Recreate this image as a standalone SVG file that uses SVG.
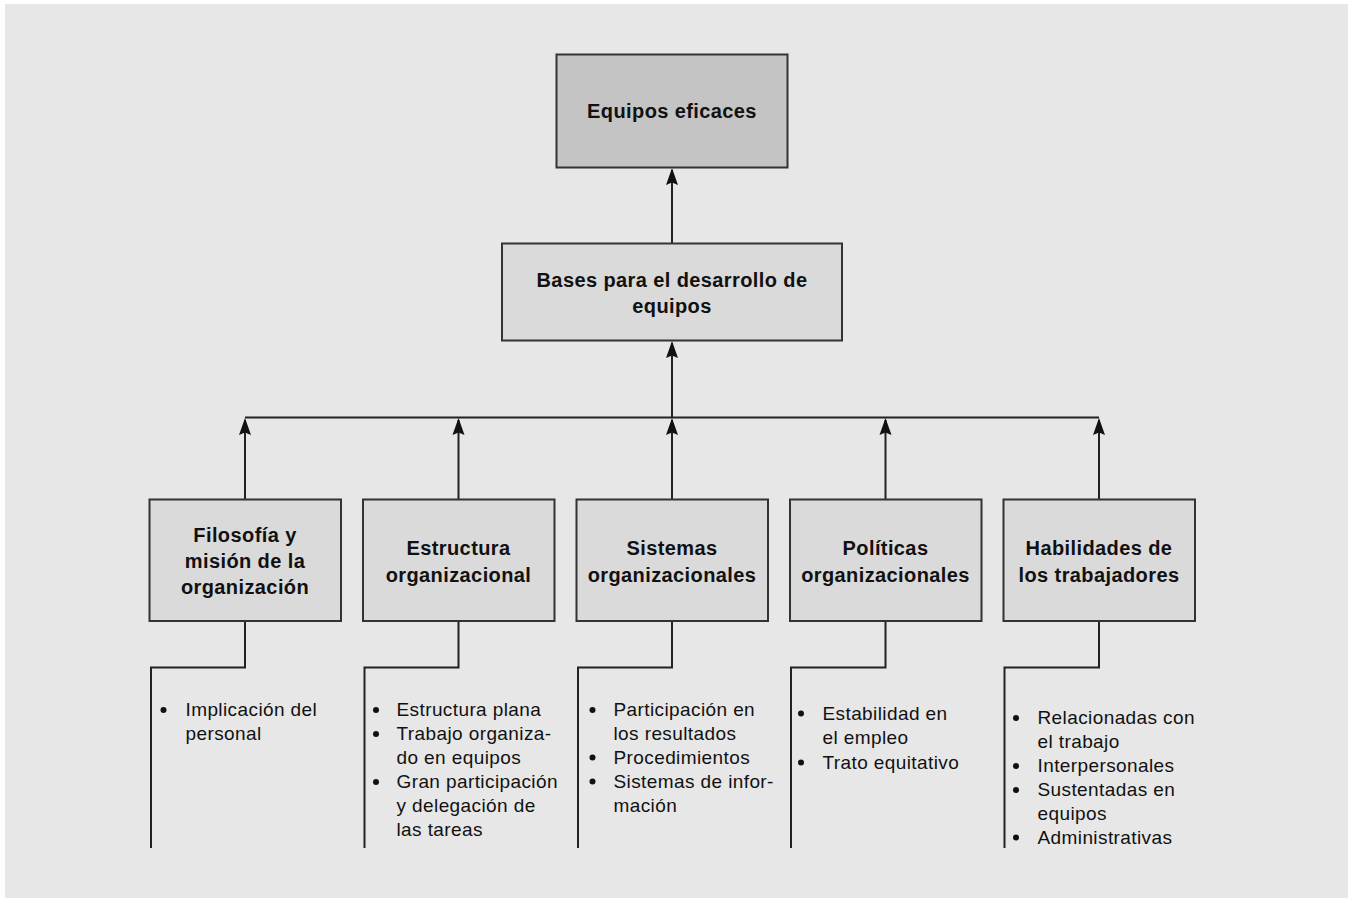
<svg xmlns="http://www.w3.org/2000/svg" width="1352" height="898" viewBox="0 0 1352 898">
<style>
.box{stroke:#333;stroke-width:2}
.light{fill:#dadada}
.dark{fill:#c4c4c4}
.hd{font-family:"Liberation Sans",Arial,sans-serif;font-weight:bold;font-size:20px;letter-spacing:0.4px;fill:#111;text-anchor:middle}
.bl{font-family:"Liberation Sans",Arial,sans-serif;font-size:19px;letter-spacing:0.4px;fill:#111}
.ln{fill:none;stroke:#222;stroke-width:2}
.dot{fill:#111}
.ah{fill:#111}
</style>
<rect x="5" y="4" width="1343" height="894" fill="#e7e7e7"/>

<g id="connectors">
<path class="ln" d="M672 243 V170"/>
<path class="ah" d="M672 168 L678 185 L672 182.5 L666 185 Z"/>
<path class="ln" d="M672 417 V343"/>
<path class="ah" d="M672 341 L678 358 L672 355.5 L666 358 Z"/>
<path class="ln" d="M245 417.5 H1099"/>
<path class="ln" d="M245 499 V420"/>
<path class="ah" d="M245 418 L251 435 L245 432.5 L239 435 Z"/>
<path class="ln" d="M458.5 499 V420"/>
<path class="ah" d="M458.5 418 L464.5 435 L458.5 432.5 L452.5 435 Z"/>
<path class="ln" d="M672 499 V420"/>
<path class="ah" d="M672 418 L678 435 L672 432.5 L666 435 Z"/>
<path class="ln" d="M885.5 499 V420"/>
<path class="ah" d="M885.5 418 L891.5 435 L885.5 432.5 L879.5 435 Z"/>
<path class="ln" d="M1099 499 V420"/>
<path class="ah" d="M1099 418 L1105 435 L1099 432.5 L1093 435 Z"/>
<path class="ln" d="M245 621 V667.5 H151 V848"/>
<path class="ln" d="M458.5 621 V667.5 H364.5 V848"/>
<path class="ln" d="M672 621 V667.5 H578 V848"/>
<path class="ln" d="M885.5 621 V667.5 H791 V848"/>
<path class="ln" d="M1099 621 V667.5 H1004.5 V848"/>
</g>

<g id="equipos-eficaces">
<rect class="box dark" x="556.5" y="54.5" width="231" height="113"/>
<text class="hd" x="672" y="118">Equipos eficaces</text>
</g>

<g id="bases">
<rect class="box light" x="502" y="243.5" width="340" height="97"/>
<text class="hd" x="672" y="287">Bases para el desarrollo de</text>
<text class="hd" x="672" y="313">equipos</text>
</g>

<g id="filosofia">
<rect class="box light" x="149.5" y="499.5" width="191.5" height="121.5"/>
<text class="hd" x="245" y="542">Filosofía y</text>
<text class="hd" x="245" y="568">misión de la</text>
<text class="hd" x="245" y="594">organización</text>
</g>

<g id="estructura">
<rect class="box light" x="363" y="499.5" width="191.5" height="121.5"/>
<text class="hd" x="458.5" y="555">Estructura</text>
<text class="hd" x="458.5" y="581.5">organizacional</text>
</g>

<g id="sistemas">
<rect class="box light" x="576.5" y="499.5" width="191.5" height="121.5"/>
<text class="hd" x="672" y="555">Sistemas</text>
<text class="hd" x="672" y="581.5">organizacionales</text>
</g>

<g id="politicas">
<rect class="box light" x="790" y="499.5" width="191.5" height="121.5"/>
<text class="hd" x="885.5" y="555">Políticas</text>
<text class="hd" x="885.5" y="581.5">organizacionales</text>
</g>

<g id="habilidades">
<rect class="box light" x="1003.5" y="499.5" width="191.5" height="121.5"/>
<text class="hd" x="1099" y="555">Habilidades de</text>
<text class="hd" x="1099" y="581.5">los trabajadores</text>
</g>

<g id="lista-filosofia">
<circle class="dot" cx="163.5" cy="710" r="3"/>
<text class="bl" x="185.5" y="716">Implicación del</text>
<text class="bl" x="185.5" y="740">personal</text>
</g>

<g id="lista-estructura">
<circle class="dot" cx="376" cy="710" r="3"/>
<text class="bl" x="396.5" y="716">Estructura plana</text>
<circle class="dot" cx="376" cy="734" r="3"/>
<text class="bl" x="396.5" y="740">Trabajo organiza-</text>
<text class="bl" x="396.5" y="764">do en equipos</text>
<circle class="dot" cx="376" cy="782" r="3"/>
<text class="bl" x="396.5" y="788">Gran participación</text>
<text class="bl" x="396.5" y="812">y delegación de</text>
<text class="bl" x="396.5" y="836">las tareas</text>
</g>

<g id="lista-sistemas">
<circle class="dot" cx="592.5" cy="710" r="3"/>
<text class="bl" x="613.5" y="716">Participación en</text>
<text class="bl" x="613.5" y="740">los resultados</text>
<circle class="dot" cx="592.5" cy="757.5" r="3"/>
<text class="bl" x="613.5" y="763.5">Procedimientos</text>
<circle class="dot" cx="592.5" cy="781.5" r="3"/>
<text class="bl" x="613.5" y="787.5">Sistemas de infor-</text>
<text class="bl" x="613.5" y="811.5">mación</text>
</g>

<g id="lista-politicas">
<circle class="dot" cx="801" cy="713.5" r="3"/>
<text class="bl" x="822.5" y="719.5">Estabilidad en</text>
<text class="bl" x="822.5" y="743.5">el empleo</text>
<circle class="dot" cx="801" cy="762.5" r="3"/>
<text class="bl" x="822.5" y="768.5">Trato equitativo</text>
</g>

<g id="lista-habilidades">
<circle class="dot" cx="1016" cy="718" r="3"/>
<text class="bl" x="1037.5" y="724">Relacionadas con</text>
<text class="bl" x="1037.5" y="748">el trabajo</text>
<circle class="dot" cx="1016" cy="766" r="3"/>
<text class="bl" x="1037.5" y="772">Interpersonales</text>
<circle class="dot" cx="1016" cy="790" r="3"/>
<text class="bl" x="1037.5" y="796">Sustentadas en</text>
<text class="bl" x="1037.5" y="820">equipos</text>
<circle class="dot" cx="1016" cy="837.5" r="3"/>
<text class="bl" x="1037.5" y="843.5">Administrativas</text>
</g>
</svg>
